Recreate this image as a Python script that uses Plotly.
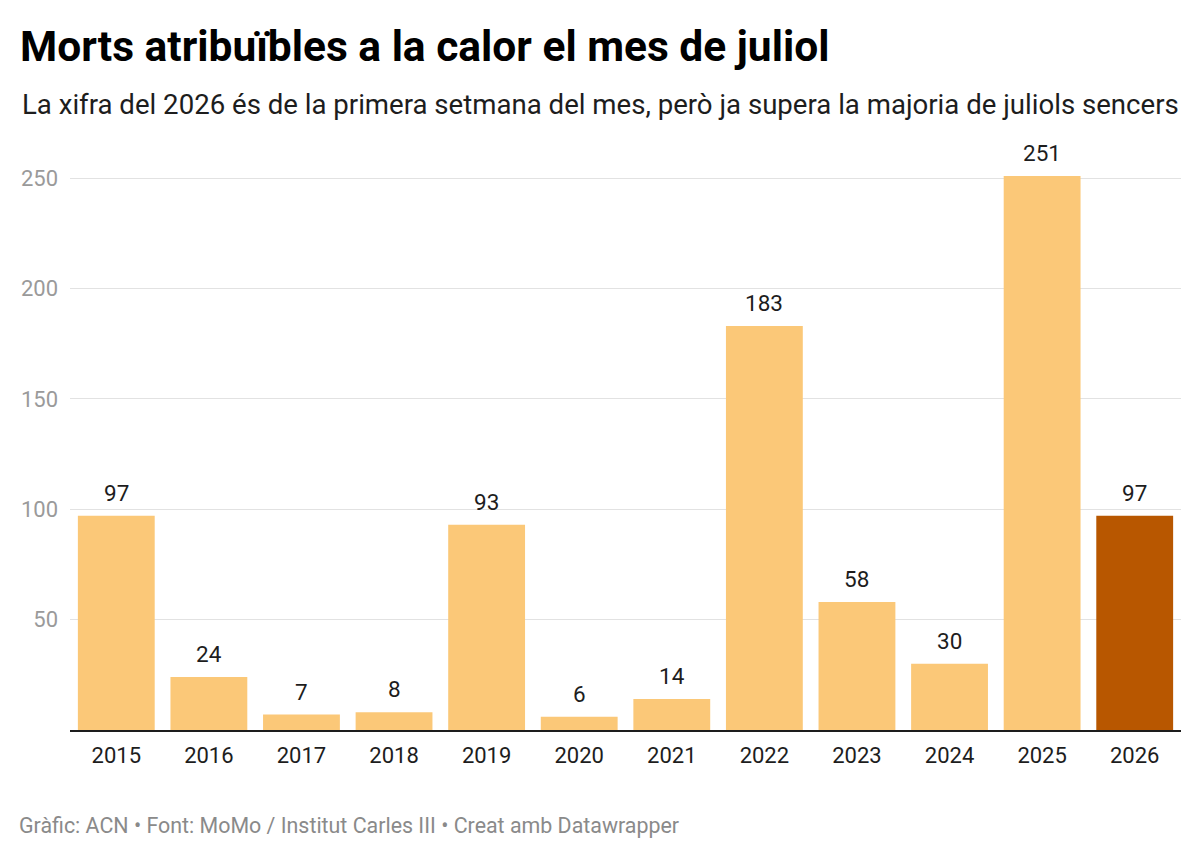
import plotly.graph_objects as go

years = ["2015", "2016", "2017", "2018", "2019", "2020", "2021", "2022", "2023", "2024", "2025", "2026"]
deaths = [97, 24, 7, 8, 93, 6, 14, 183, 58, 30, 251, 97]
y_ticks = [50, 100, 150, 200, 250]

LIGHT = "#fbc878"
DARK = "#b85700"
colors = [DARK if y == "2026" else LIGHT for y in years]

W, H = 1200, 857
ML, MR, MT, MB = 70, 19, 145, 127

fig = go.Figure()
fig.add_trace(go.Bar(
    x=years, y=deaths, marker=dict(color=colors, line=dict(width=0)),
    hoverinfo="skip", showlegend=False,
))

for i, v in enumerate(deaths):
    fig.add_annotation(x=i, y=v, text=str(v), showarrow=False, yanchor="bottom",
                       yshift=8, font=dict(family="Roboto", size=22.5, color="#1d1d1d"))

fig.add_annotation(xref="paper", yref="paper", x=(20 - ML) / (W - ML - MR), y=1 + (MT - 104) / (H - MT - MB),
                   xanchor="left", yanchor="middle", showarrow=False,
                   text="La xifra del 2026 és de la primera setmana del mes, però ja supera la majoria de juliols sencers",
                   font=dict(family="Roboto", size=27.6, color="#1d1d1d"))
fig.add_annotation(xref="paper", yref="paper", x=(17 - ML) / (W - ML - MR), y=-(825 - (H - MB)) / (H - MT - MB),
                   xanchor="left", yanchor="middle", showarrow=False,
                   text="Gràfic: ACN • Font: MoMo / Institut Carles III • Creat amb Datawrapper",
                   font=dict(family="Roboto", size=21.4, color="#8a8a8a"))

fig.update_layout(
    width=W, height=H,
    margin=dict(l=ML, r=MR, t=MT, b=MB),
    paper_bgcolor="white", plot_bgcolor="white",
    bargap=0.17,
    title=dict(text="<b>Morts atribuïbles a la calor el mes de juliol</b>",
               x=20 / W, xref="container", xanchor="left",
               y=1 - 46 / H, yref="container", yanchor="middle",
               font=dict(family="Roboto", size=42.5, color="#000000")),
    font=dict(family="Roboto"),
)
fig.update_xaxes(
    type="category", range=[-0.5, len(years) - 0.5], showgrid=False, ticks="", showline=True,
    linecolor="#1d1d1d", linewidth=2,
    tickfont=dict(family="Roboto", size=22, color="#1d1d1d"), ticklabelstandoff=5,
    fixedrange=True,
)
fig.update_yaxes(
    range=[0, 265], tickvals=y_ticks, ticktext=[str(t) for t in y_ticks],
    showgrid=True, gridcolor="#e2e2e2", gridwidth=1, zeroline=False, showline=False, ticks="",
    tickfont=dict(family="Roboto", size=22, color="#9a9a9a"), ticklabelstandoff=11,
    fixedrange=True,
)

fig.write_html("out.html")
